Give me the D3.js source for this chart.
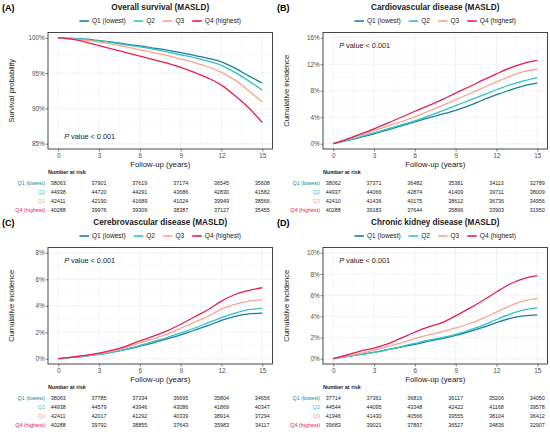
<!DOCTYPE html>
<html><head><meta charset="utf-8">
<script src="https://cdn.jsdelivr.net/npm/d3@7"></script>
<style>body{margin:0;background:#fff}svg{display:block;font-family:"Liberation Sans",Arial,sans-serif}</style>
</head><body>
<script>
const years = [0,1,2,3,4,5,6,7,8,9,10,11,12,13,14,15];
const groups = ["Q1 (lowest)","Q2","Q3","Q4 (highest)"];
const riskLabels = ["Q1 (lowest)","Q2","Q3","Q4 (highest)"];
const colors = ["#1A7F9E","#33C2C5","#F8A58B","#E3204F"];
const riskYears = [0,3,6,9,12,15];

// Panel A: overall survival (%)
const osQ1 = [100,99.9,99.8,99.6,99.4,99.1,98.85,98.55,98.25,97.9,97.5,97.1,96.6,95.7,94.6,93.6];
const osQ2 = [100,99.9,99.75,99.55,99.3,99.0,98.7,98.4,98.0,97.6,97.2,96.7,96.1,95.1,93.9,92.6];
const osQ3 = [100,99.85,99.65,99.4,99.1,98.7,98.3,97.9,97.5,97.0,96.5,95.9,95.1,94.0,92.5,90.9];
const osQ4 = [100,99.8,99.4,98.9,98.4,97.9,97.4,96.9,96.4,95.8,95.1,94.3,93.3,91.8,90.1,88.0];
// Panel B: cardiovascular disease cumulative incidence (%)
const cvQ1 = [0,0.45,0.95,1.5,2.1,2.7,3.3,3.9,4.45,5.05,5.75,6.6,7.4,8.1,8.75,9.15];
const cvQ2 = [0,0.5,1.05,1.65,2.25,2.85,3.45,4.2,4.95,5.75,6.55,7.35,8.15,8.9,9.5,10.0];
const cvQ3 = [0,0.65,1.3,2.0,2.65,3.35,4.05,4.9,5.75,6.65,7.55,8.45,9.35,10.2,10.9,11.25];
const cvQ4 = [0,0.7,1.45,2.25,3.1,4.0,4.9,5.75,6.65,7.65,8.6,9.6,10.55,11.45,12.15,12.6];
// Panel C: cerebrovascular disease (%)
const cbQ1 = [0,0.1,0.2,0.33,0.5,0.7,0.95,1.2,1.5,1.8,2.15,2.5,2.9,3.2,3.38,3.45];
const cbQ2 = [0,0.1,0.2,0.33,0.5,0.72,1.0,1.3,1.6,1.95,2.3,2.7,3.1,3.45,3.7,3.8];
const cbQ3 = [0,0.11,0.23,0.38,0.58,0.85,1.2,1.5,1.85,2.3,2.75,3.2,3.75,4.1,4.35,4.47];
const cbQ4 = [0,0.12,0.25,0.42,0.65,0.95,1.35,1.7,2.1,2.6,3.15,3.7,4.35,4.85,5.15,5.36];
// Panel D: chronic kidney disease (%)
const ckQ1 = [0,0.2,0.4,0.6,0.85,1.1,1.35,1.65,1.9,2.2,2.55,2.95,3.4,3.8,4.05,4.14];
const ckQ2 = [0,0.2,0.4,0.6,0.85,1.15,1.45,1.75,2.0,2.3,2.7,3.15,3.7,4.2,4.6,4.83];
const ckQ3 = [0,0.25,0.5,0.8,1.15,1.5,1.9,2.25,2.55,2.9,3.3,3.8,4.4,5.0,5.45,5.7];
const ckQ4 = [0,0.35,0.72,1.0,1.4,1.95,2.5,3.0,3.4,4.05,4.75,5.5,6.3,7.05,7.55,7.84];

// Number at risk
const riskA = [[38063,37901,37619,37174,36545,35608],[44938,44720,44291,43686,42830,41582],[42411,42190,41689,41024,39949,38566],[40288,39976,39309,38387,37127,35455]];
const riskB = [[38062,37371,36482,35381,34113,32789],[44937,44066,42874,41409,39711,38009],[42410,41436,40175,38612,36736,34956],[40288,39183,37644,35896,33903,31950]];
const riskC = [[38063,37785,37334,36695,35804,34656],[44938,44579,43946,43086,41869,40347],[42411,42017,41292,40339,38914,37294],[40288,39792,38855,37643,35983,34117]];
const riskD = [[37714,37361,36816,36117,35206,34050],[44544,44095,43348,42422,41168,39578],[41946,41430,40566,39555,38104,36412],[39683,39021,37897,36527,34836,32907]];

const panels = [
  {tag:"(A)", title:"Overall survival (MASLD)", ylab:"Survival probability", series:[osQ1,osQ2,osQ3,osQ4], dom:[85,100], ticks:[85,90,95,100], risk:riskA, pTop:false, ox:0, oy:0},
  {tag:"(B)", title:"Cardiovascular disease (MASLD)", ylab:"Cumulative incidence", series:[cvQ1,cvQ2,cvQ3,cvQ4], dom:[0,16], ticks:[0,4,8,12,16], risk:riskB, pTop:true, ox:275, oy:0},
  {tag:"(C)", title:"Cerebrovascular disease (MASLD)", ylab:"Cumulative incidence", series:[cbQ1,cbQ2,cbQ3,cbQ4], dom:[0,8], ticks:[0,2,4,6,8], risk:riskC, pTop:true, ox:0, oy:215},
  {tag:"(D)", title:"Chronic kidney disease (MASLD)", ylab:"Cumulative incidence", series:[ckQ1,ckQ2,ckQ3,ckQ4], dom:[0,10], ticks:[0,2,4,6,8,10], risk:riskD, pTop:true, ox:275, oy:215}
];

const svg = d3.select("body").append("svg").attr("width",550).attr("height",432);

const box = {l:48, r:272.5, t:32.5, b:149};

panels.forEach(p => {
  const g = svg.append("g").attr("transform",`translate(${p.ox},${p.oy})`);
  const xr = 15*0.05, yr = (p.dom[1]-p.dom[0])*0.05;
  const x = d3.scaleLinear().domain([-xr,15+xr]).range([box.l,box.r]);
  const y = d3.scaleLinear().domain([p.dom[0]-yr,p.dom[1]+yr]).range([box.b,box.t]);
  const cx = (x(0)+x(15))/2;

  // tag and title
  g.append("text").attr("x",2).attr("y",11).attr("font-size",9).attr("font-weight","bold").text(p.tag);
  g.append("text").attr("x",cx).attr("y",10).attr("text-anchor","middle").attr("font-size",8.2).attr("font-weight","bold").attr("fill","#1a1a1a").text(p.title);

  // legend
  const lg = g.append("g");
  let lx = 0;
  const items = [];
  groups.forEach((name,i) => {
    const it = lg.append("g");
    it.append("line").attr("x1",0).attr("x2",9.5).attr("y1",0).attr("y2",0).attr("stroke",colors[i]).attr("stroke-width",1.6);
    const t = it.append("text").attr("x",12.5).attr("y",2.3).attr("font-size",6.6).attr("fill","#1a1a1a").text(name);
    const w = 12.5 + t.node().getComputedTextLength();
    it.attr("transform",`translate(${lx},0)`);
    lx += w + 8;
  });
  const lw = lx - 8;
  lg.attr("transform",`translate(${cx - lw/2},21)`);

  // grid
  const minorX = [1.5,4.5,7.5,10.5,13.5];
  const minorY = p.ticks.slice(0,-1).map((t,i)=> (t+p.ticks[i+1])/2);
  const grid = g.append("g");
  minorX.forEach(v=>grid.append("line").attr("x1",x(v)).attr("x2",x(v)).attr("y1",box.t).attr("y2",box.b).attr("stroke","#f4f4f4").attr("stroke-width",0.4));
  minorY.forEach(v=>grid.append("line").attr("x1",box.l).attr("x2",box.r).attr("y1",y(v)).attr("y2",y(v)).attr("stroke","#f4f4f4").attr("stroke-width",0.4));
  riskYears.forEach(v=>grid.append("line").attr("x1",x(v)).attr("x2",x(v)).attr("y1",box.t).attr("y2",box.b).attr("stroke","#ebebeb").attr("stroke-width",0.6));
  p.ticks.forEach(v=>grid.append("line").attr("x1",box.l).attr("x2",box.r).attr("y1",y(v)).attr("y2",y(v)).attr("stroke","#ebebeb").attr("stroke-width",0.6));

  // curves
  const line = d3.line().x((d,i)=>x(years[i])).y(d=>y(d)).curve(d3.curveMonotoneX);
  p.series.forEach((s,i)=>{
    g.append("path").datum(s).attr("d",line).attr("fill","none").attr("stroke",colors[i]).attr("stroke-width",1.3);
  });

  // border
  g.append("rect").attr("x",box.l).attr("y",box.t).attr("width",box.r-box.l).attr("height",box.b-box.t).attr("fill","none").attr("stroke","#333").attr("stroke-width",0.9);

  // axes
  const ya = d3.axisLeft(y).tickValues(p.ticks).tickSize(2.5).tickFormat(d=>d+"%");
  const yg = g.append("g").attr("transform",`translate(${box.l},0)`).call(ya);
  const xa = d3.axisBottom(x).tickValues(riskYears).tickSize(2.5);
  const xg = g.append("g").attr("transform",`translate(0,${box.b})`).call(xa);
  [yg,xg].forEach(a=>{
    a.select(".domain").remove();
    a.selectAll(".tick line").attr("stroke","#333").attr("stroke-width",0.6);
    a.selectAll(".tick text").attr("font-size",6.3).attr("fill","#4d4d4d").attr("font-family","Liberation Sans, Arial, sans-serif");
  });
  yg.selectAll(".tick text").attr("x",-3.5);
  xg.selectAll(".tick text").attr("y",4.5);

  // axis titles
  g.append("text").attr("x",cx).attr("y",167).attr("text-anchor","middle").attr("font-size",7.8).attr("fill","#1a1a1a").text("Follow-up (years)");
  g.append("text").attr("transform",`translate(14,${(box.t+box.b)/2}) rotate(-90)`).attr("text-anchor","middle").attr("font-size",7.6).attr("fill","#1a1a1a").text(p.ylab);

  // p value
  const pt = g.append("text").attr("x",x(0)+6).attr("y",p.pTop ? 47.5 : 139).attr("font-size",7.3).attr("fill","#1a1a1a");
  pt.append("tspan").attr("font-style","italic").text("P");
  pt.append("tspan").text(" value < 0.001");

  // risk table
  g.append("text").attr("x",48).attr("y",174).attr("font-size",5.4).attr("font-weight","bold").attr("fill","#1a1a1a").text("Number at risk");
  const rowY = [184.5,193.8,203,212.2];
  p.risk.forEach((row,i)=>{
    g.append("text").attr("x",45).attr("y",rowY[i]).attr("text-anchor","end").attr("font-size",5.4).attr("fill",colors[i]).text(riskLabels[i]);
    row.forEach((v,j)=>{
      g.append("text").attr("x",x(riskYears[j])).attr("y",rowY[i]).attr("text-anchor","middle").attr("font-size",5.4).attr("fill","#1a1a1a").text(v);
    });
  });
});
</script>
</body></html>
